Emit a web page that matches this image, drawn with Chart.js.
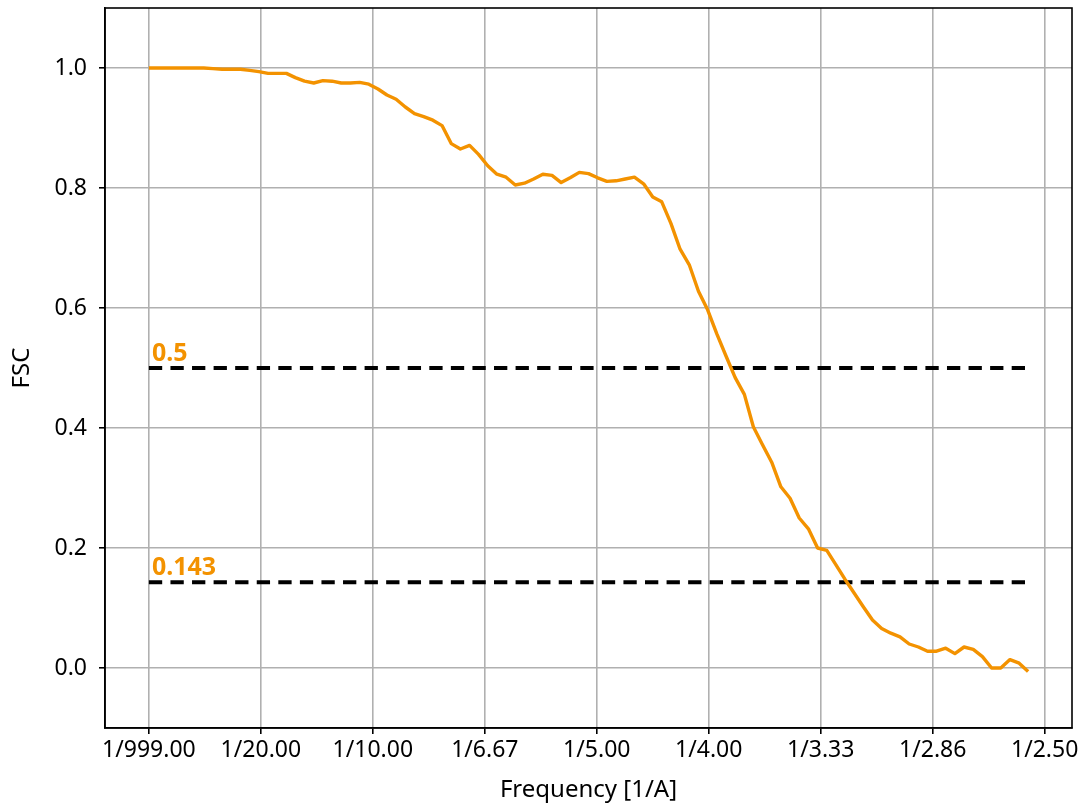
<!DOCTYPE html>
<html>
<head>
<meta charset="utf-8">
<script src="https://cdn.jsdelivr.net/npm/chart.js@4/dist/chart.umd.min.js"></script>
<style>
  html, body { margin: 0; padding: 0; background: #ffffff; }
  #wrap { width: 1083px; height: 805px; }
</style>
</head>
<body>
<div id="wrap"><canvas id="fsc" width="1083" height="805"></canvas></div>
<script>
// Spatial frequency of each Fourier shell [1/A]
const frequency = [
  0.0000, 0.0041, 0.0082, 0.0123, 0.0164, 0.0205, 0.0245, 0.0286, 0.0327, 0.0368,
  0.0409, 0.0450, 0.0491, 0.0532, 0.0573, 0.0614, 0.0654, 0.0695, 0.0736, 0.0777,
  0.0818, 0.0859, 0.0900, 0.0941, 0.0982, 0.1023, 0.1063, 0.1104, 0.1145, 0.1186,
  0.1227, 0.1268, 0.1309, 0.1350, 0.1391, 0.1432, 0.1472, 0.1513, 0.1554, 0.1595,
  0.1636, 0.1677, 0.1718, 0.1759, 0.1800, 0.1841, 0.1881, 0.1922, 0.1963, 0.2004,
  0.2045, 0.2086, 0.2127, 0.2168, 0.2209, 0.2250, 0.2290, 0.2331, 0.2372, 0.2413,
  0.2454, 0.2495, 0.2536, 0.2577, 0.2618, 0.2659, 0.2699, 0.2740, 0.2781, 0.2822,
  0.2863, 0.2904, 0.2945, 0.2986, 0.3027, 0.3068, 0.3108, 0.3149, 0.3190, 0.3231,
  0.3272, 0.3313, 0.3354, 0.3395, 0.3436, 0.3477, 0.3517, 0.3558, 0.3599, 0.3640,
  0.3681, 0.3722, 0.3763, 0.3804, 0.3845, 0.3886, 0.3926
];

// Fourier shell correlation per shell
const fsc = [
  1.000, 1.000, 1.000, 1.000, 1.000, 1.000, 1.000, 0.999, 0.998, 0.998,
  0.998, 0.996, 0.994, 0.991, 0.991, 0.991, 0.984, 0.978, 0.975, 0.979,
  0.978, 0.975, 0.975, 0.976, 0.973, 0.965, 0.955, 0.948, 0.935, 0.924,
  0.919, 0.913, 0.904, 0.874, 0.865, 0.871, 0.856, 0.837, 0.823, 0.818,
  0.805, 0.808, 0.815, 0.823, 0.821, 0.809, 0.817, 0.826, 0.824, 0.817,
  0.811, 0.812, 0.815, 0.818, 0.807, 0.785, 0.777, 0.741, 0.698, 0.672,
  0.628, 0.597, 0.557, 0.520, 0.484, 0.456, 0.402, 0.372, 0.343, 0.302,
  0.283, 0.250, 0.232, 0.200, 0.196, 0.172, 0.148, 0.125, 0.102, 0.080,
  0.066, 0.058, 0.052, 0.040, 0.035, 0.028, 0.028, 0.033, 0.024, 0.035,
  0.031, 0.019, 0.000, 0.000, 0.014, 0.008, -0.006
];

// Resolution cut-off criteria
const thresholds = [0.5, 0.143];
const thresholdLabels = ['0.5', '0.143'];

// Axis ticks
const xTickValues = [0, 0.05, 0.10, 0.15, 0.20, 0.25, 0.30, 0.35, 0.40];
const xTickLabels = ['1/999.00', '1/20.00', '1/10.00', '1/6.67', '1/5.00', '1/4.00', '1/3.33', '1/2.86', '1/2.50'];
const yTickValues = [0.0, 0.2, 0.4, 0.6, 0.8, 1.0];
const yTickLabels = ['0.0', '0.2', '0.4', '0.6', '0.8', '1.0'];

const ORANGE = '#f39200';
const FONT = '"Noto Sans", "DejaVu Sans", sans-serif';

const curve = frequency.map((f, i) => ({ x: f, y: fsc[i] }));
const first = frequency[0];
const last = frequency[frequency.length - 1];

const thresholdSets = thresholds.map(t => ({
  label: 'FSC = ' + t,
  data: [{ x: first, y: t }, { x: last, y: t }],
  borderColor: '#000000',
  borderWidth: 4,
  borderDash: [13.3, 8.27],
  borderCapStyle: 'butt',
  pointRadius: 0,
  fill: false,
  order: 2
}));

// Frame around the plot area and the threshold value labels
const framePlugin = {
  id: 'frameAndLabels',
  afterDatasetsDraw(chart) {
    const { ctx, chartArea: a, scales } = chart;
    ctx.save();
    ctx.fillStyle = ORANGE;
    ctx.font = 'bold 25px ' + FONT;
    ctx.textAlign = 'left';
    ctx.textBaseline = 'alphabetic';
    thresholds.forEach((t, i) => {
      const px = scales.x.getPixelForValue(first) + 3;
      const py = scales.y.getPixelForValue(t) - 7;
      ctx.fillText(thresholdLabels[i], px, py);
    });
    ctx.strokeStyle = '#000000';
    ctx.lineWidth = 1.6;
    ctx.strokeRect(a.left, a.top, a.right - a.left, a.bottom - a.top);
    ctx.restore();
  }
};

// Plot area edges are set by the layout padding alone
const noEdgePadding = s => {
  s.paddingTop = 0;
  s.paddingBottom = 0;
  s.paddingLeft = 0;
  s.paddingRight = 0;
};

new Chart(document.getElementById('fsc'), {
  type: 'line',
  data: {
    datasets: [
      {
        label: 'FSC',
        data: curve,
        borderColor: ORANGE,
        borderWidth: 3.4,
        borderJoinStyle: 'round',
        pointRadius: 0,
        fill: false,
        tension: 0,
        order: 1
      },
      ...thresholdSets
    ]
  },
  options: {
    responsive: false,
    animation: false,
    devicePixelRatio: 1,
    layout: { padding: { top: 8, right: 11, left: 0, bottom: 0 } },
    plugins: {
      legend: { display: false },
      tooltip: { enabled: false }
    },
    scales: {
      x: {
        type: 'linear',
        min: -0.0196,
        max: 0.4122,
        afterBuildTicks: s => { s.ticks = xTickValues.map(v => ({ value: v })); },
        afterFit: s => { s.height = 77; noEdgePadding(s); },
        ticks: {
          callback: (v, i) => xTickLabels[i],
          color: '#000000',
          font: { family: FONT, size: 23 },
          padding: 3,
          maxRotation: 0,
          autoSkip: false
        },
        grid: { color: '#b0b0b0', lineWidth: 1.6, tickLength: 6, tickColor: '#000000', tickWidth: 1.6 },
        border: { color: '#000000', width: 1.6 },
        title: {
          display: true,
          text: 'Frequency [1/A]',
          color: '#000000',
          font: { family: FONT, size: 24 },
          padding: { top: 0, bottom: 0 }
        }
      },
      y: {
        type: 'linear',
        min: -0.1,
        max: 1.1,
        afterBuildTicks: s => { s.ticks = yTickValues.map(v => ({ value: v })); },
        afterFit: s => { s.width = 105; noEdgePadding(s); },
        ticks: {
          callback: (v, i) => yTickLabels[i],
          color: '#000000',
          font: { family: FONT, size: 23 },
          padding: 12
        },
        grid: { color: '#b0b0b0', lineWidth: 1.6, tickLength: 6, tickColor: '#000000', tickWidth: 1.6 },
        border: { color: '#000000', width: 1.6 },
        title: {
          display: true,
          text: 'FSC',
          color: '#000000',
          font: { family: FONT, size: 24 },
          padding: { top: 8, bottom: 0 }
        }
      }
    }
  },
  plugins: [framePlugin]
});
</script>
</body>
</html>
